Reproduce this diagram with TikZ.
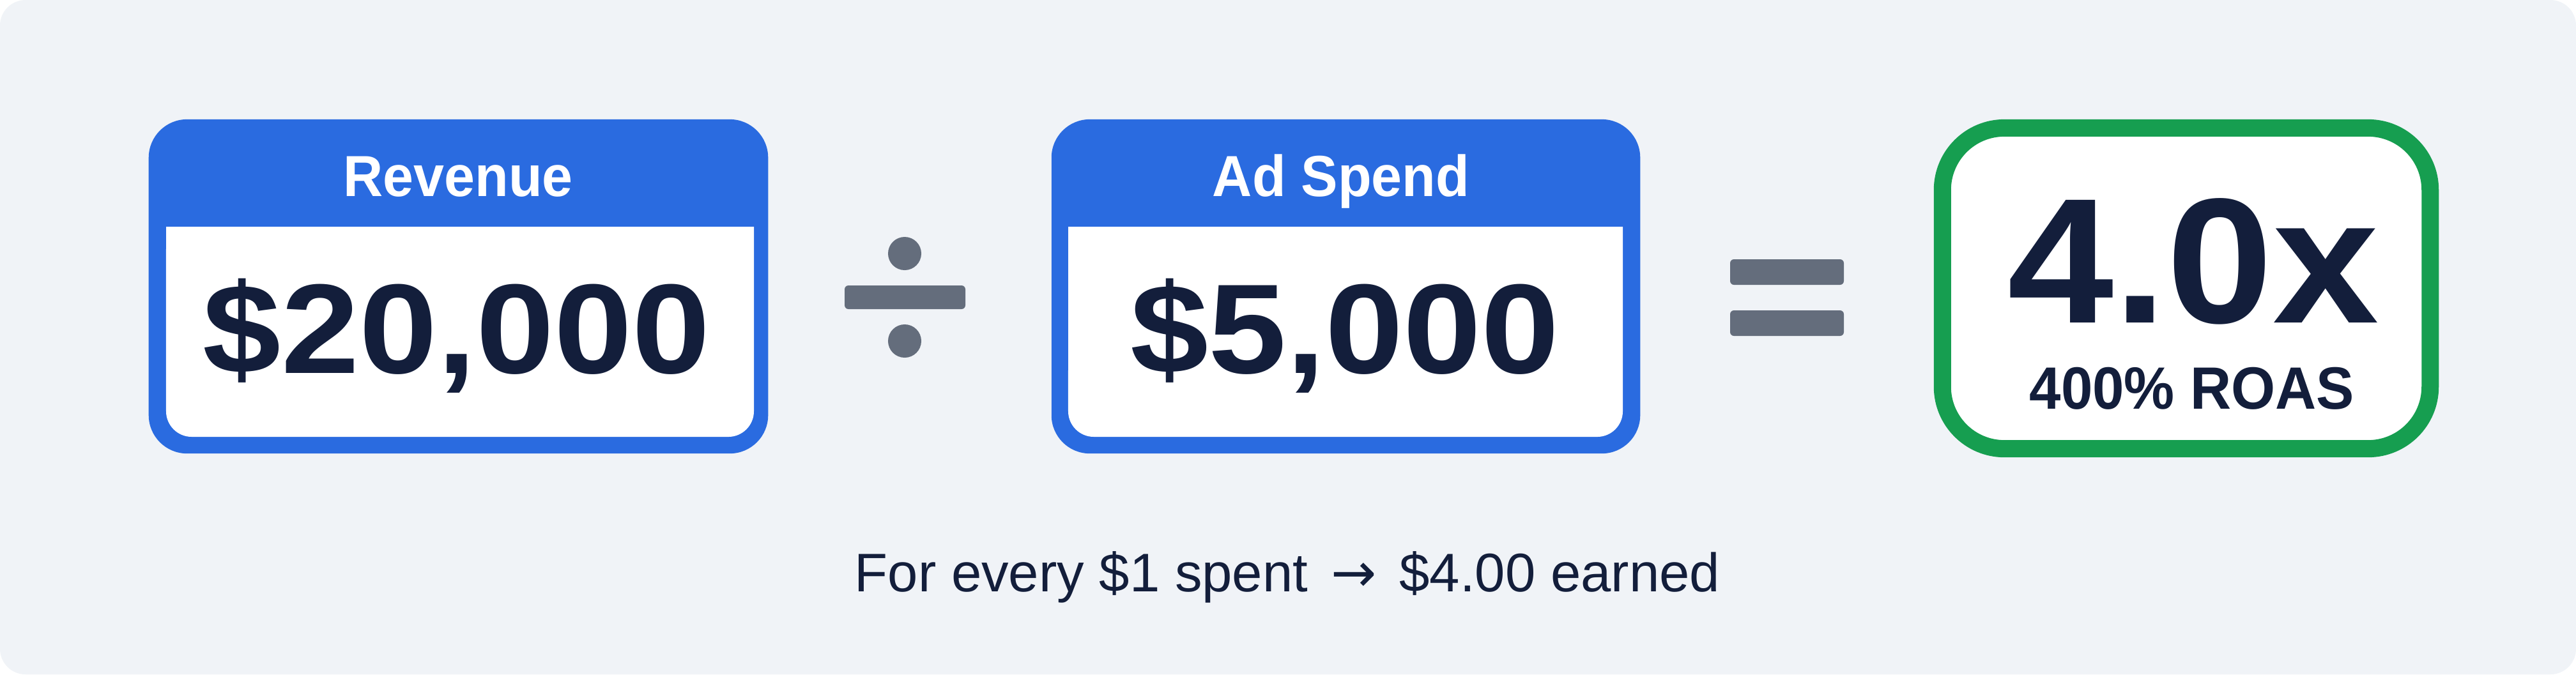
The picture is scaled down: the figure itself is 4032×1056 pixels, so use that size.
\documentclass[tikz,border=0pt]{standalone}
\usepackage{fontspec}
\setmainfont{Liberation Sans}
\newfontfamily\widefont[FakeStretch=1.1]{Liberation Sans}
\newfontfamily\midfont[FakeStretch=1.07]{Liberation Sans}
\newfontfamily\narrowfont[FakeStretch=0.95]{Liberation Sans}
\newfontfamily\arrowfont{DejaVu Sans}
\definecolor{bgc}{HTML}{F0F3F7}
\definecolor{bluec}{HTML}{2A6BE0}
\definecolor{greenc}{HTML}{169E50}
\definecolor{navy}{HTML}{131E3B}
\definecolor{slatec}{HTML}{646D7C}
\tikzset{
  bluebox/.style={fill=bluec, rounded corners=0.6cm, inner sep=0pt, outer sep=0pt},
  greenbox/.style={draw=greenc, line width=0.27cm, fill=white, rounded corners=0.97cm, inner sep=0pt, outer sep=0pt},
  headtext/.style={text=white, font=\narrowfont\bfseries\fontsize{25.8}{30}\selectfont, inner sep=0pt},
  valtext/.style={text=navy, font=\widefont\bfseries\fontsize{56.8}{60}\selectfont, inner sep=0pt},
  bigtext/.style={text=navy, font=\midfont\bfseries\fontsize{79.4}{84}\selectfont, inner sep=0pt},
  subtext/.style={text=navy, font=\narrowfont\bfseries\fontsize{26.6}{30}\selectfont, inner sep=0pt},
  foottext/.style={text=navy, font=\fontsize{24.2}{28}\selectfont, inner sep=0pt},
  opfill/.style={fill=slatec},
}
\begin{document}
\begin{tikzpicture}[x=0.01cm, y=-0.01cm]
\useasboundingbox (0,0) rectangle (4032,1056);
\fill[white] (0,0) rectangle (4032,1056);
\fill[bgc, rounded corners=0.4cm] (0,0) rectangle (4032,1056);

% Revenue box
\node[bluebox, minimum width=9.69cm, minimum height=5.23cm] (rev) at (717.5,448.5) {};
\fill[white] (260,355) -- (1180,355) -- (1180,644)
  arc[start angle=0, end angle=-90, radius=0.4cm] -- (300,684)
  arc[start angle=270, end angle=180, radius=0.4cm] -- cycle;
\node[headtext, anchor=base] (revlabel) at (717,307) {Revenue};
\node[valtext, anchor=base] (revnum) at (715,584) {\$20,000};

% Division sign
\fill[opfill] (1416,397) circle[radius=0.26cm];
\fill[opfill] (1416,534) circle[radius=0.26cm];
\fill[opfill, rounded corners=0.06cm] (1322,447) rectangle (1511,484);

% Ad Spend box
\node[bluebox, minimum width=9.21cm, minimum height=5.23cm] (ads) at (2106.5,448.5) {};
\fill[white] (1672,355) -- (2540,355) -- (2540,644)
  arc[start angle=0, end angle=-90, radius=0.4cm] -- (1712,684)
  arc[start angle=270, end angle=180, radius=0.4cm] -- cycle;
\node[headtext, anchor=base] (adslabel) at (2099,307) {Ad Spend};
\node[valtext, anchor=base] (adsnum) at (2105,584) {\$5,000};

% Equals sign
\fill[opfill, rounded corners=0.06cm] (2708,406) rectangle (2886,446);
\fill[opfill, rounded corners=0.06cm] (2708,486) rectangle (2886,526);

% Result box
\node[greenbox, minimum width=7.63cm, minimum height=5.02cm] (roas) at (3422,451.5) {};
\node[bigtext, anchor=base] (roasnum) at (3433,505) {4.0x};
\node[subtext, anchor=base] (roaspct) at (3431,640) {400\% ROAS};

% Footer
\node[foottext, anchor=base] (foot) at (2015,926) {For every \$1 spent\hspace{0.36cm}{\arrowfont →}\hspace{0.36cm}\$4.00 earned};
\end{tikzpicture}
\end{document}
